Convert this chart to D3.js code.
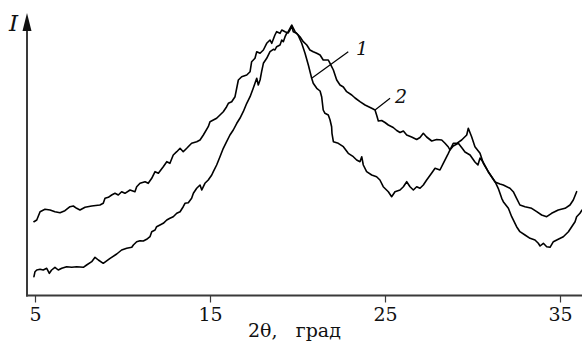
<!DOCTYPE html>
<html><head><meta charset="utf-8">
<script src="https://cdn.jsdelivr.net/npm/d3@7"></script>
<style>html,body{margin:0;padding:0;background:#fff;}svg{display:block;}</style>
</head><body><div id="chart"></div>
<script>
const xTicks = [5, 15, 25, 35];
const xTitle = "2θ,   град";
const yTitle = "I";

// curve 1: [2θ, I (arb. units)]
const curve1 = [
[4.94,19.3],[5.00,24.3],[5.10,26],[5.29,26.7],[5.47,26],[5.67,27.7],[5.82,22.7],[5.95,26],[6.14,28.7],[6.33,26],
[6.53,27.7],[6.81,29.3],[7.10,28.7],[7.38,29.3],[7.76,28.7],[7.95,31],[8.24,34.3],[8.43,38.7],[8.62,36],[8.90,32.7],
[9.29,37.7],[9.67,42],[9.95,46],[10.24,47.7],[10.53,48.7],[10.62,51],[10.81,54.3],[11.00,55.3],[11.19,55],[11.38,56.7],
[11.57,59.3],[11.67,64.3],[11.86,66],[11.95,69.3],[12.14,71],[12.33,72.7],[12.53,76],[12.71,77.7],[12.90,79.3],[13.10,82.7],
[13.29,84.3],[13.47,89.3],[13.57,92.7],[13.76,93.3],[13.95,97.7],[14.05,102.7],[14.24,107.7],[14.43,111],[14.53,106],[14.62,109.3],
[14.71,112.7],[14.90,116],[15.10,121],[15.19,124.3],[15.38,131],[15.57,139.3],[15.76,147.7],[15.95,154.3],[16.14,161],[16.33,166],
[16.53,172.7],[16.71,177.7],[16.90,184.3],[17.10,192.7],[17.29,199.3],[17.47,207.7],[17.57,212.7],[17.67,217.7],[17.76,211],[17.86,216],
[17.95,224.3],[18.05,232.7],[18.24,237.7],[18.43,244.3],[18.62,246.7],[18.71,246],[18.81,249.3],[19.00,251],[19.10,256],[19.19,254.3],
[19.29,259.3],[19.38,262.7],[19.47,264.3],[19.57,267.7],[19.67,271],[19.86,264.3],[20.03,261],[20.24,252.7],[20.43,242.7],[20.62,231],
[20.81,217.7],[20.90,212.7],[21.10,207.7],[21.29,205],[21.38,199.3],[21.47,186],[21.57,182.7],[21.76,181],[21.86,176],[21.95,169.3],
[21.97,162.7],[22.05,154.3],[22.33,152.7],[22.62,149.3],[22.90,142.7],[23.19,139.3],[23.38,136],[23.57,134.3],[23.67,139.3],[23.76,131],
[23.95,124.3],[24.24,121],[24.52,119.3],[24.71,116],[24.90,109.3],[25.19,104.3],[25.38,99.3],[25.57,104.3],[25.86,106],[26.05,109.3],
[26.24,114.3],[26.43,109.3],[26.62,106],[26.81,109.3],[27.00,107.7],[27.19,111],[27.38,116],[27.67,123],[27.86,127.7],[28.14,126],
[28.33,132.7],[28.62,142.7],[28.71,146],[28.90,152.7],[29.10,152.7],[29.38,156],[29.67,161],[29.76,167.7],[29.95,159.3],[30.14,149.3],
[30.43,142.7],[30.62,132.7],[30.90,124.3],[31.29,114.3],[31.47,107.7],[31.67,97.7],[31.76,94.3],[32.05,87.7],[32.24,79.3],[32.52,69.3],
[32.71,64.3],[33.00,61],[33.29,57.7],[33.57,56],[33.76,52.7],[33.86,50],[34.05,52.7],[34.24,49.3],[34.43,48.7],[34.62,54.3],
[34.90,56.7],[35.19,59.3],[35.48,64.3],[35.67,69.3],[35.86,74.3],[35.95,79.3],[36.14,82.7],[36.26,86]
];

// curve 2: [2θ, I (arb. units)]
const curve2 = [
[4.94,74.3],[5.10,76],[5.29,84.3],[5.57,86.7],[5.86,86],[6.14,84.3],[6.43,83.3],[6.71,85.3],[7.00,89.3],[7.19,90],
[7.38,87.7],[7.57,86],[7.86,88.7],[8.24,90],[8.71,91],[8.90,92.7],[9.00,97.7],[9.19,98.7],[9.38,101],[9.57,102.7],
[9.76,101],[9.95,104.3],[10.14,102.7],[10.43,106],[10.71,104.3],[10.81,109.3],[11.00,112.7],[11.29,114.3],[11.47,112.7],[11.67,117.7],
[11.86,124.3],[12.05,122.7],[12.33,129.3],[12.53,134.3],[12.71,132.7],[12.90,141],[13.10,144.3],[13.29,147.7],[13.47,144.3],[13.67,147.7],
[13.95,152.7],[14.24,154.3],[14.43,156],[14.62,161],[14.90,169.3],[15.00,174.3],[15.19,176],[15.38,177.7],[15.57,181],[15.76,184.3],
[15.95,189.3],[16.05,192.7],[16.24,194.3],[16.43,199.3],[16.62,216],[16.81,219.3],[17.10,221],[17.29,224.3],[17.38,234.3],[17.57,237.7],
[17.67,244.3],[17.86,242.7],[18.05,246],[18.24,252.7],[18.43,256],[18.53,252.7],[18.71,261],[18.81,264.3],[19.00,262.7],[19.10,266],
[19.29,264.3],[19.46,263],[19.57,266],[19.67,270],[19.76,264.3],[19.95,262.7],[20.14,259.3],[20.33,254.3],[20.53,251],[20.71,246],
[20.90,244.3],[21.10,242.7],[21.29,241],[21.47,236],[21.76,236],[21.86,232.7],[22.05,226],[22.24,216],[22.43,211],[22.62,209],
[22.81,204.3],[23.10,201],[23.29,198],[23.57,194.3],[23.86,191],[24.24,187.7],[24.43,186],[24.52,181],[24.62,175],[24.81,175.5],
[25.00,173.5],[25.19,171],[25.47,168.5],[25.67,165.5],[25.86,163.5],[26.05,165],[26.24,161],[26.52,159],[26.81,156.5],[27.00,158.5],
[27.19,162.7],[27.38,159],[27.67,155],[27.95,156.5],[28.24,156],[28.43,152.7],[28.62,149],[28.71,146],[28.90,150],[29.19,152.7],
[29.40,148],[29.57,144],[29.86,141],[30.14,134],[30.31,131],[30.43,138],[30.60,134],[30.90,124.3],[31.29,114],[31.57,112],
[31.76,111],[32.14,107.7],[32.33,104.3],[32.52,97.7],[32.71,91],[33.00,89.3],[33.38,87.7],[33.67,84.3],[33.95,81],[34.24,79.3],
[34.52,82.7],[34.90,86],[35.29,87.7],[35.57,91],[35.76,96],[35.95,104.3]
];

// curve labels: text, label anchor [2θ, I], leader from [2θ, I] to [2θ, I]
const labelNames = ["1", "2"];
const labelPos = [[23.34, 241], [25.57, 193]];
const leaderFrom = [[20.81, 217.7], [24.43, 186]];
const leaderTo = [[22.90, 244.3], [25.29, 197.7]];

const W = 582, H = 345;
const svg = d3.select("#chart").append("svg").attr("width", W).attr("height", H);

const x = d3.scaleLinear().domain([5, 35]).range([35, 560]);
const y = d3.scaleLinear().domain([0, 280]).range([296, 16]);

const axisColor = "#3a3a3a";
const serif = "DejaVu Serif";

// X axis
const xAxis = d3.axisBottom(x).tickValues(xTicks).tickSize(7).tickPadding(5).tickFormat(d3.format("d"));
const gx = svg.append("g").attr("transform", "translate(0,295.5)").call(xAxis);
gx.attr("font-family", serif).attr("font-size", 19);
gx.select(".domain").remove();
gx.selectAll(".tick line").attr("stroke", axisColor).attr("stroke-width", 1.2);
gx.selectAll(".tick text").attr("fill", "#111").attr("dy", "0.72em");
svg.append("line").attr("x1", 26).attr("x2", W).attr("y1", 295.5).attr("y2", 295.5)
  .attr("stroke", axisColor).attr("stroke-width", 2);

// Y axis with arrow
svg.append("line").attr("x1", 27).attr("x2", 27).attr("y1", 296.5).attr("y2", 28)
  .attr("stroke", axisColor).attr("stroke-width", 2);
svg.append("path").attr("d", "M27,13 L22.5,31 L31.5,31 Z").attr("fill", "#111");

svg.append("text").attr("x", 9).attr("y", 31).attr("font-family", serif).attr("font-style", "italic")
  .attr("font-size", 23).attr("fill", "#111").text(yTitle);

svg.append("text").attr("x", 248).attr("y", 337).attr("font-family", serif).attr("font-size", 19)
  .attr("fill", "#111").style("white-space", "pre").text(xTitle);

// curves
const line = d3.line().x(d => x(d[0])).y(d => y(d[1])).curve(d3.curveLinear);
[curve1, curve2].forEach(c => {
  svg.append("path").datum(c).attr("d", line).attr("fill", "none").attr("stroke", "#000")
    .attr("stroke-width", 1.6).attr("stroke-linejoin", "round").attr("stroke-linecap", "round");
});

// leaders and labels
labelNames.forEach((name, i) => {
  svg.append("line").attr("x1", x(leaderFrom[i][0])).attr("y1", y(leaderFrom[i][1]))
    .attr("x2", x(leaderTo[i][0])).attr("y2", y(leaderTo[i][1]))
    .attr("stroke", "#000").attr("stroke-width", 1.2);
  svg.append("text").attr("x", x(labelPos[i][0])).attr("y", y(labelPos[i][1]))
    .attr("font-family", serif).attr("font-style", "italic").attr("font-size", 19)
    .attr("fill", "#111").text(name);
});
</script>
</body></html>
